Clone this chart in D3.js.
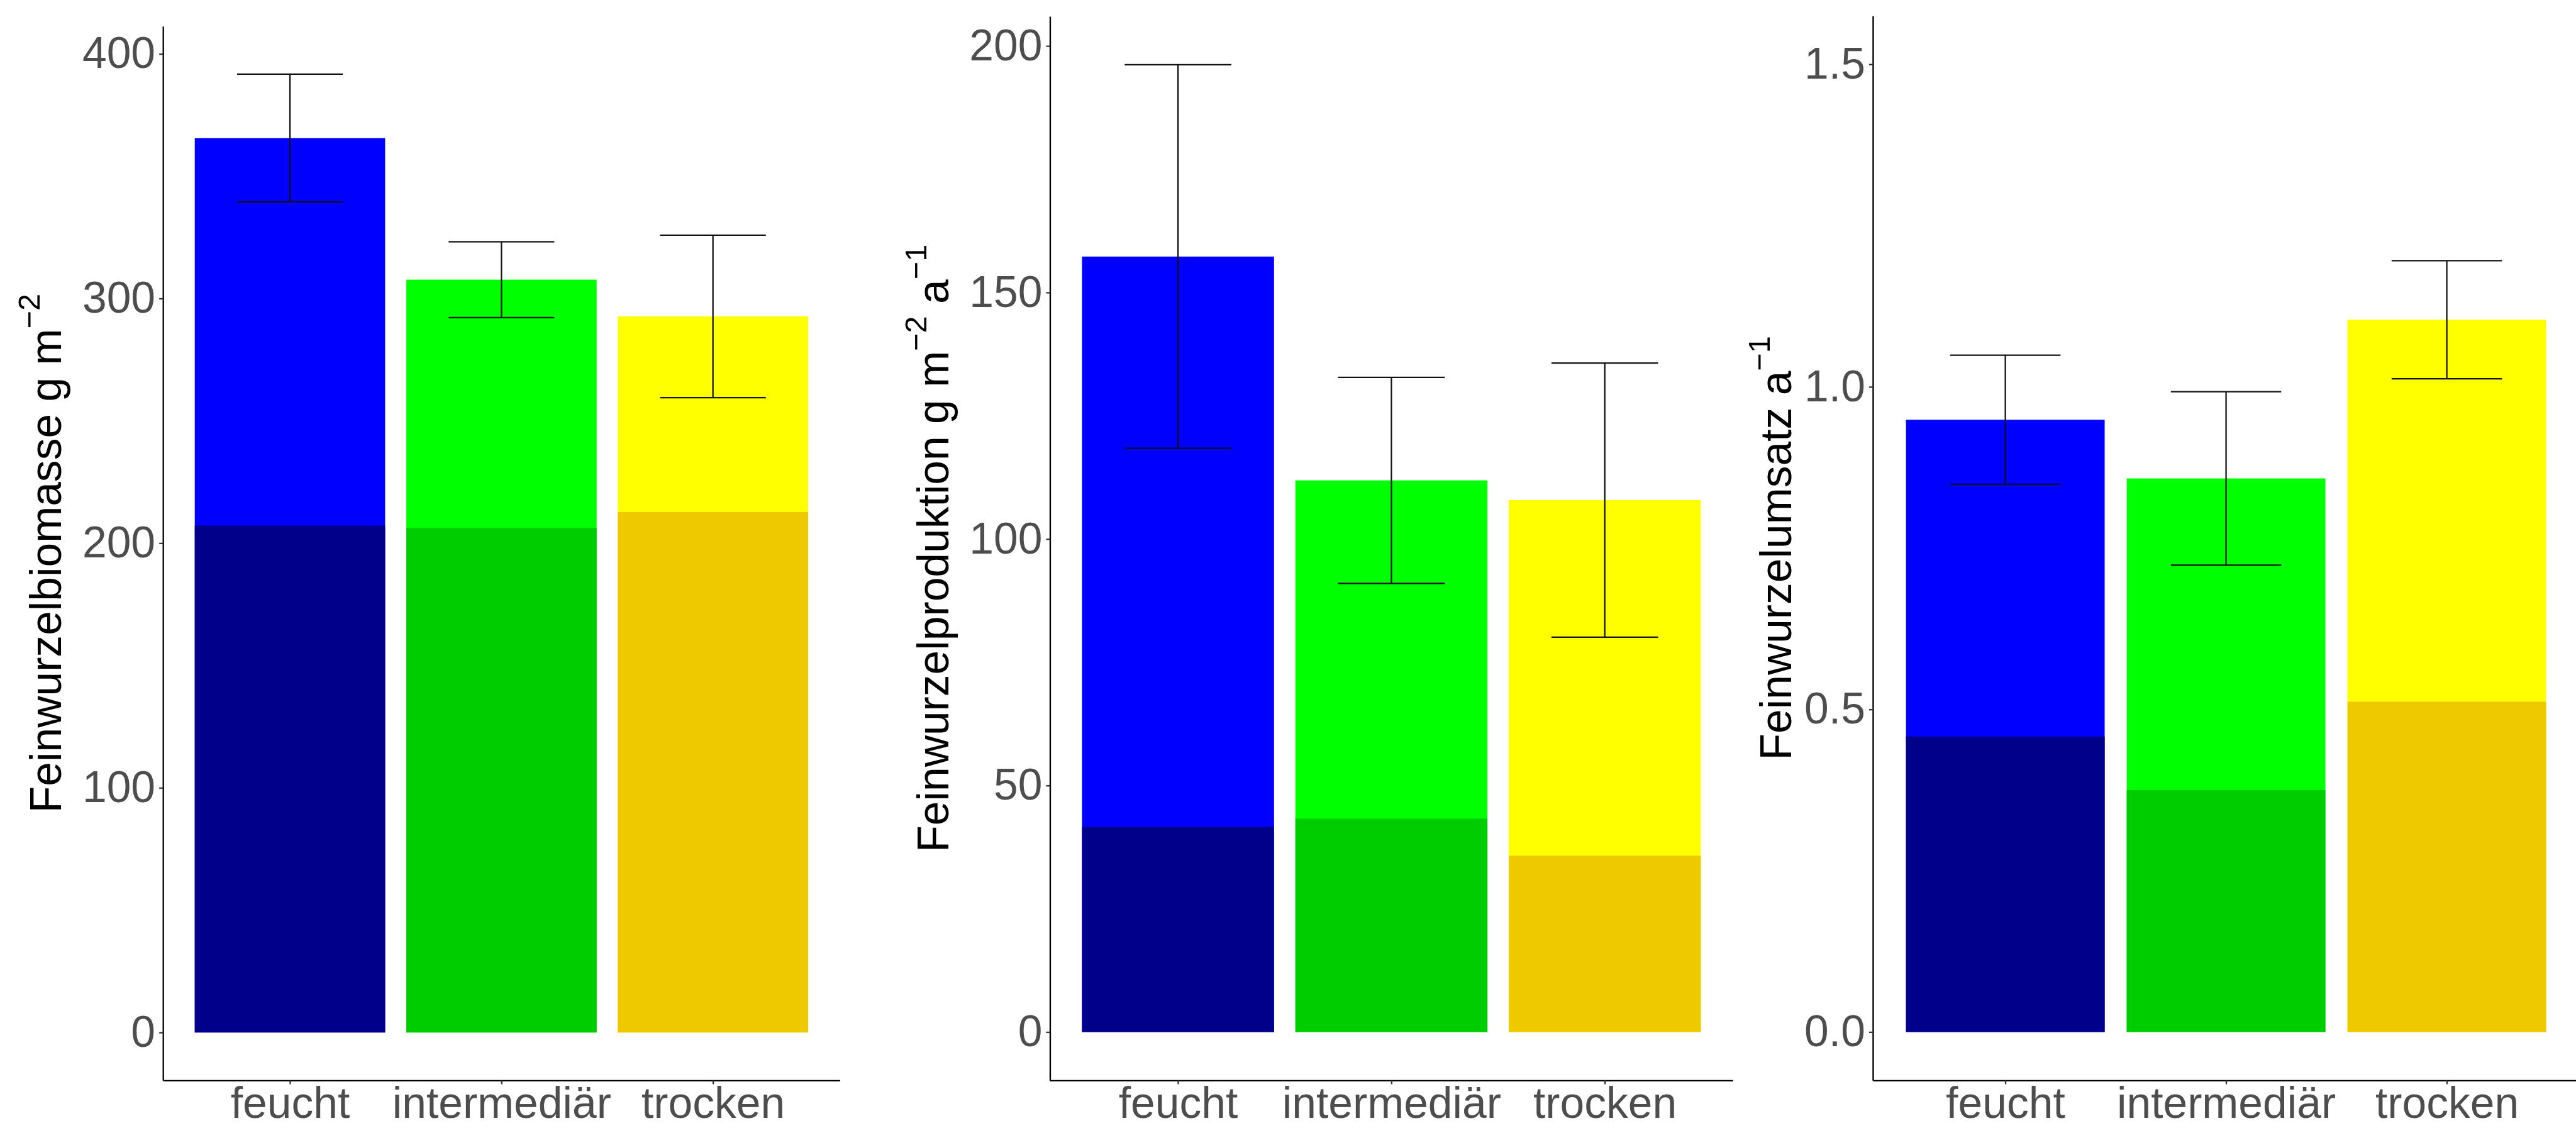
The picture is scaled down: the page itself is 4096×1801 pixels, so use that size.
<!DOCTYPE html>
<html>
<head>
<meta charset="utf-8">
<script src="https://cdn.jsdelivr.net/npm/d3@7"></script>
<style>
  body { margin: 0; background: #fff; }
  svg { display: block; }
  text { font-family: "Liberation Sans", Arial, sans-serif; }
</style>
</head>
<body>
<div id="chart"></div>
<script>
// categories and values
var categories = ["feucht", "intermediär", "trocken"];

var biomasseMean = [365.6, 307.7, 292.7];
var biomasseDark = [207.2, 206.2, 212.7];
var biomasseSE   = [26.1, 15.5, 33.2];

var produktionMean = [157.3, 111.9, 107.9];
var produktionDark = [41.6, 43.3, 35.8];
var produktionSE   = [38.9, 20.9, 27.8];

var umsatzMean = [0.949, 0.858, 1.104];
var umsatzDark = [0.458, 0.375, 0.512];
var umsatzSE   = [0.100, 0.1345, 0.0915];

var biomasseTicks   = [0, 100, 200, 300, 400];
var produktionTicks = [0, 50, 100, 150, 200];
var umsatzTicks     = [0, 0.5, 1.0, 1.5];

var lightColors = ["#0000FF", "#00FF00", "#FFFF00"];
var darkColors  = ["#00008B", "#00CD00", "#EEC900"];

// layout in reference pixels, scaled down at the end
var SCALE = 0.87;
var axisBottom = 1974;

var panels = [
  { mean: biomasseMean, dark: biomasseDark, se: biomasseSE, ticks: biomasseTicks,
    fmt: d3.format("d"), ymax: null,
    title: [{t: "Feinwurzelbiomasse g m"}, {t: "\u22122", sup: true}],
    left: 298, right: 1535, top: 48, titleX: 112 },
  { mean: produktionMean, dark: produktionDark, se: produktionSE, ticks: produktionTicks,
    fmt: d3.format("d"), ymax: null,
    title: [{t: "Feinwurzelproduktion g m"}, {t: "\u22122", sup: true}, {t: " a"}, {t: "\u22121", sup: true}],
    left: 1919, right: 3167, top: 30, titleX: 1733 },
  { mean: umsatzMean, dark: umsatzDark, se: umsatzSE, ticks: umsatzTicks,
    fmt: d3.format(".1f"), ymax: 1.5,
    title: [{t: "Feinwurzelumsatz a"}, {t: "\u22121", sup: true}],
    left: 3423, right: 4714, top: 29, titleX: 3274 }
];

var svg = d3.select("#chart")
  .append("svg")
    .attr("width", 4096)
    .attr("height", 1801)
    .style("background", "#fff");

var root = svg.append("g")
  .attr("transform", "scale(" + SCALE + ")");

panels.forEach(function(p) {
  var g = root.append("g");

  var hi = p.ymax != null ? p.ymax : d3.max(p.mean, function(m, i) { return m + p.se[i]; });
  var pad = 0.05 * hi;

  var y = d3.scaleLinear()
    .domain([-pad, hi + pad])
    .range([axisBottom, p.top]);

  var x = d3.scalePoint()
    .domain(categories)
    .range([p.left, p.right])
    .padding(0.6);
  var step = x.step();

  var rows = categories.map(function(c, i) {
    return { cat: c, mean: p.mean[i], dark: p.dark[i], se: p.se[i], i: i };
  });

  // full bars (light)
  g.selectAll(".light")
    .data(rows)
    .enter()
    .append("rect")
      .attr("x", function(d) { return x(d.cat) - 0.45 * step; })
      .attr("width", 0.9 * step)
      .attr("y", function(d) { return y(d.mean); })
      .attr("height", function(d) { return y(0) - y(d.mean); })
      .style("fill", function(d) { return lightColors[d.i]; });

  // lower part (dark)
  g.selectAll(".dark")
    .data(rows)
    .enter()
    .append("rect")
      .attr("x", function(d) { return x(d.cat) - 0.45 * step; })
      .attr("width", 0.9 * step)
      .attr("y", function(d) { return y(d.dark); })
      .attr("height", function(d) { return y(0) - y(d.dark); })
      .style("fill", function(d) { return darkColors[d.i]; });

  // error bars
  var eb = g.selectAll(".err")
    .data(rows)
    .enter()
    .append("g")
      .style("stroke", "#111")
      .style("stroke-width", 2.6)
      .style("fill", "none");
  eb.append("line")
    .attr("x1", function(d) { return x(d.cat); })
    .attr("x2", function(d) { return x(d.cat); })
    .attr("y1", function(d) { return y(d.mean - d.se); })
    .attr("y2", function(d) { return y(d.mean + d.se); });
  [1, -1].forEach(function(s) {
    eb.append("line")
      .attr("x1", function(d) { return x(d.cat) - 0.25 * step; })
      .attr("x2", function(d) { return x(d.cat) + 0.25 * step; })
      .attr("y1", function(d) { return y(d.mean + s * d.se); })
      .attr("y2", function(d) { return y(d.mean + s * d.se); });
  });

  // y axis
  var yAxis = g.append("g")
    .attr("transform", "translate(" + p.left + ",0)")
    .call(d3.axisLeft(y).tickValues(p.ticks).tickFormat(p.fmt)
      .tickSize(7).tickSizeOuter(0).tickPadding(7));

  // x axis
  var xAxis = g.append("g")
    .attr("transform", "translate(0," + axisBottom + ")")
    .call(d3.axisBottom(x).tickSize(7).tickSizeOuter(0).tickPadding(5));

  [yAxis, xAxis].forEach(function(ax) {
    ax.select(".domain").style("stroke", "#000").style("stroke-width", 2.7);
    ax.selectAll(".tick line").style("stroke", "#333").style("stroke-width", 2.6);
    ax.selectAll(".tick text")
      .style("font-size", "80px")
      .style("fill", "#4D4D4D")
      .style("font-family", "'Liberation Sans', Arial, sans-serif");
  });

  // y title with superscripts
  var cy = (p.top + axisBottom) / 2;
  var title = g.append("text")
    .attr("transform", "translate(" + p.titleX + "," + cy + ") rotate(-90)")
    .attr("text-anchor", "middle")
    .style("font-size", "80px")
    .style("fill", "#000");
  var shift = 0;
  p.title.forEach(function(part) {
    var target = part.sup ? -40 : 0;
    title.append("tspan")
      .attr("dy", target - shift)
      .style("font-size", part.sup ? "56px" : "80px")
      .text(part.t);
    shift = target;
  });
});
</script>
</body>
</html>
